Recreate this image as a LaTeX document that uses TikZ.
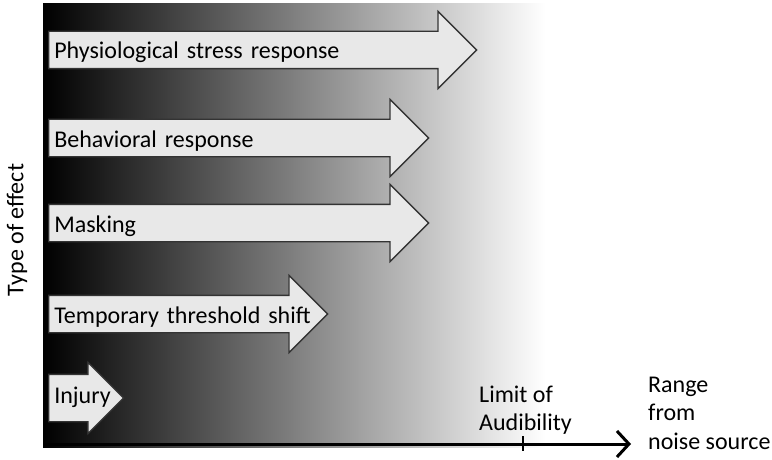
\documentclass[tikz,border=0pt]{standalone}
\usepackage{pgf, tikz}
\usepackage{xcolor}
\usepackage{fontspec}
\setmainfont{Carlito}
\usetikzlibrary{shapes.arrows,arrows.meta}

\tikzset{effect/.style={single arrow, draw=black!80, fill=black!9, line width=1.3pt,
  single arrow head extend=20pt, single arrow tip angle=90, inner xsep=5pt, inner ysep=0pt,
  text height=27pt, text depth=9pt, align=left, anchor=tail, font=\fontsize{24}{29}\selectfont}}

\begin{document}
\begin{tikzpicture}[x=1pt,y=-1pt]
\useasboundingbox (0,0) rectangle (772,460);

\shade[left color=black, middle color=black!45, right color=white] (43,4) rectangle (545,447);

\node[effect, text width=398pt](1) at(48,50){Physiological stress response};
\node[effect, text width=350pt](2) at(48,138){Behavioral response};
\node[effect, text width=350pt](3) at(48,223){Masking};
\node[effect, text width=249pt](4) at(48,314){\mbox{Temporary threshold shift}};
\node[effect, text width=40pt, text height=28.5pt, text depth=17.5pt, single arrow head extend=12pt](5) at(48,398){\mbox{Injury}};

\node[rotate=90, font=\fontsize{24}{29}\selectfont](6) at(17,230){Type of effect};
\node[anchor=base west, align=left, inner sep=0pt, font=\fontsize{24}{28}\selectfont](7) at(479,430){Limit of\\Audibility};
\node[anchor=base west, align=left, inner sep=0pt, font=\fontsize{24}{28.5}\selectfont](8) at(648,449){Range\\from\\noise source};

\coordinate(9) at(43,444);
\coordinate(10) at(631,444);
\draw [line width=3pt, -{Straight Barb[length=12pt,width=26pt]}](9)--(10);
\draw [line width=1.5pt](523,436)--(523,451);
\end{tikzpicture}
\end{document}
